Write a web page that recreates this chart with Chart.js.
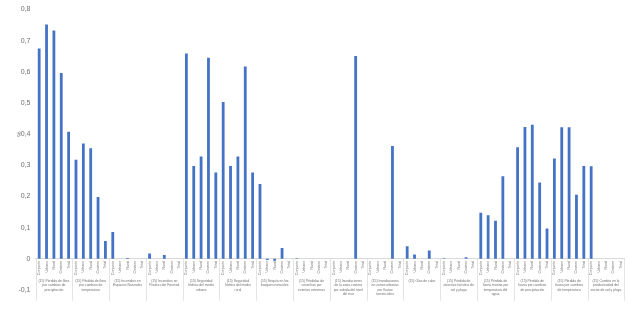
<!DOCTYPE html>
<html>
<head>
<meta charset="utf-8">
<script src="https://cdn.jsdelivr.net/npm/chart.js@4.4.1/dist/chart.umd.min.js"></script>
<style>
  html, body { margin: 0; padding: 0; background: #fff; }
  #chart { display: block; }
</style>
</head>
<body>
<canvas id="chart" width="631" height="311"></canvas>
<script>
// subcategorías (se repiten en cada grupo)
const subLabels = ["Conjunto", "Urbano", "Rural", "Costero", "Total"];

const groupLabels = [
  "(15) Pérdida de flora por cambios de precipitación",
  "(15) Pérdida de flora por cambios de temperatura",
  "(15) Incendios en Espacios Naturales",
  "(15) Incendios en Producción Forestal",
  "(15) Seguridad hídrica del medio urbano",
  "(15) Seguridad hídrica del medio rural",
  "(15) Sequía en los bosques naturales",
  "(15) Pérdidas de cosechas por eventos extremos",
  "(15) Inundaciones de la zona costera por subida del nivel del mar",
  "(15) Inundaciones en zonas urbanas por lluvias torrenciales",
  "(15) Olas de calor",
  "(15) Pérdida de atractivo turístico de sol y playa",
  "(15) Pérdida de fauna marina por temperatura del agua",
  "(15) Pérdida de fauna por cambios de precipitación",
  "(15) Pérdida de fauna por cambios de temperatura",
  "(15) Cambio en la productividad del sector de sol y playa"
];

const yTicks = [-0.1, 0, 0.1, 0.2, 0.3, 0.4, 0.5, 0.6, 0.7, 0.8];

// valores por grupo (5 subcategorías cada uno)
const floraPrecip   = [0.675, 0.752, 0.733, 0.596, 0.408];
const floraTemp     = [0.318, 0.370, 0.355, 0.198, 0.057];
const incendiosNat  = [0.086, 0, 0.003, 0, 0];
const incendiosFor  = [0.017, 0, 0.012, 0, 0];
const hidricaUrb    = [0.659, 0.298, 0.328, 0.645, 0.277];
const hidricaRur    = [0.503, 0.298, 0.328, 0.617, 0.277];
const sequia        = [0.240, -0.004, -0.006, 0.035, 0];
const cosechas      = [0.002, 0, 0, 0, 0];
const inundCosta    = [0, 0, 0, 0.651, 0];
const inundUrb      = [0, 0, 0, 0.362, 0];
const olasCalor     = [0.040, 0.014, 0, 0.027, 0];
const turismo       = [0.002, 0, 0, 0.005, 0];
const faunaMarina   = [0.148, 0.140, 0.122, 0.265, 0];
const faunaPrecip   = [0.358, 0.423, 0.430, 0.245, 0.097];
const faunaTemp     = [0.322, 0.422, 0.422, 0.206, 0.298];
const productividad = [0.297, 0, 0, 0, 0];

const groups = [floraPrecip, floraTemp, incendiosNat, incendiosFor, hidricaUrb, hidricaRur,
  sequia, cosechas, inundCosta, inundUrb, olasCalor, turismo, faunaMarina, faunaPrecip,
  faunaTemp, productividad];

const labels = [];
const values = [];
groups.forEach((g, gi) => {
  g.forEach((v, i) => {
    labels.push(groupLabels[gi] + " - " + subLabels[i]);
    values.push(v);
  });
});

const FONT = "'Liberation Sans', 'DejaVu Sans', sans-serif";
const TEXT = "#6f6f6f";
const LINE = "#d9d9d9";

function wrapText(ctx, text, maxW) {
  const words = text.split(" ");
  const lines = [];
  let cur = "";
  words.forEach((w) => {
    const test = cur ? cur + " " + w : w;
    if (ctx.measureText(test).width > maxW && cur) {
      lines.push(cur);
      cur = w;
    } else {
      cur = test;
    }
  });
  if (cur) lines.push(cur);
  return lines;
}

// eje de categorías de dos niveles + título del eje Y
const groupAxis = {
  id: "groupAxis",
  afterDraw(chart) {
    const { ctx } = chart;
    const x = chart.scales.x;
    const y = chart.scales.y;
    const y0 = y.getPixelForValue(0);
    const step = x.width / labels.length;
    ctx.save();
    ctx.strokeStyle = LINE;
    ctx.lineWidth = 0.7;
    for (let k = 0; k <= groups.length; k++) {
      const px = Math.round(x.getPixelForValue(k * 5) - step / 2) + 0.5;
      ctx.beginPath();
      ctx.moveTo(px, y0);
      ctx.lineTo(px, y0 + 42);
      ctx.stroke();
    }
    ctx.fillStyle = TEXT;
    ctx.font = "3.4px " + FONT;
    ctx.textAlign = "center";
    ctx.textBaseline = "top";
    groupLabels.forEach((t, gi) => {
      const cx = (x.getPixelForValue(gi * 5) + x.getPixelForValue(gi * 5 + 4)) / 2;
      const lines = wrapText(ctx, t, step * 5 - 5);
      lines.forEach((ln, li) => ctx.fillText(ln, cx, y0 + 20.5 + li * 4.4));
    });
    ctx.font = "6px " + FONT;
    ctx.translate(19, y.getPixelForValue(0.4));
    ctx.rotate(-Math.PI / 2);
    ctx.textAlign = "center";
    ctx.textBaseline = "middle";
    ctx.fillText("%", 0, 0);
    ctx.restore();
  }
};

new Chart(document.getElementById("chart"), {
  type: "bar",
  data: {
    labels,
    datasets: [{
      label: "Valor",
      data: values,
      backgroundColor: "#4472C4",
      borderWidth: 0,
      barPercentage: 0.38,
      categoryPercentage: 1
    }]
  },
  options: {
    responsive: false,
    animation: false,
    maintainAspectRatio: false,
    layout: { padding: { top: 9.5, right: 6.7, bottom: 21, left: 0 } },
    plugins: {
      legend: { display: false },
      tooltip: { enabled: false }
    },
    scales: {
      x: {
        position: { y: 0 },
        grid: { display: false, drawTicks: false },
        border: { display: true, color: LINE, width: 1 },
        ticks: {
          autoSkip: false,
          maxRotation: 90,
          minRotation: 90,
          padding: 2,
          color: TEXT,
          font: { size: 3.6, family: FONT },
          callback: (v, i) => subLabels[i % 5]
        }
      },
      y: {
        min: -0.1,
        max: 0.8,
        afterBuildTicks: (s) => { s.ticks = yTicks.map((v) => ({ value: v })); },
        afterFit: (s) => { s.width = 35.5; },
        grid: { display: false, drawTicks: false },
        border: { display: false },
        ticks: {
          padding: 5,
          color: TEXT,
          font: { size: 7, family: FONT },
          callback: (v) => (Math.round(v * 10) / 10).toString().replace(".", ",")
        }
      }
    }
  },
  plugins: [groupAxis]
});
</script>
</body>
</html>
